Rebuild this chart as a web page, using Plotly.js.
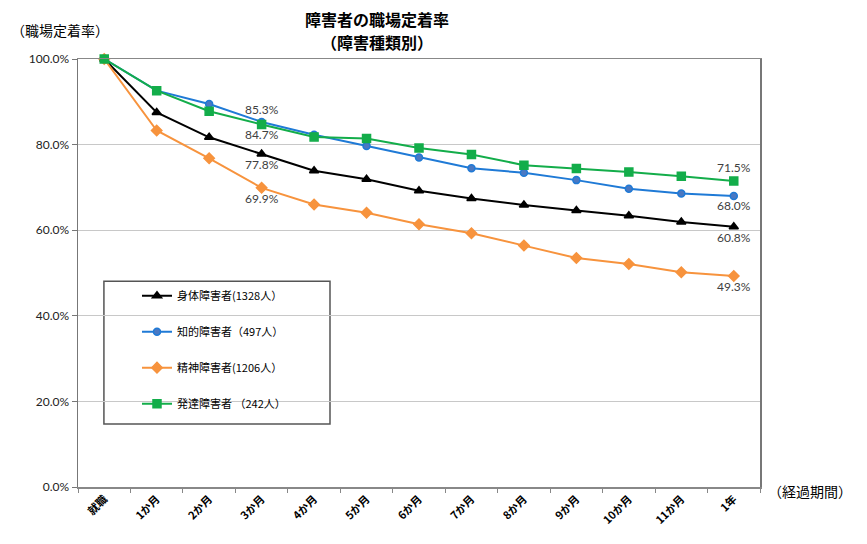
<!DOCTYPE html>
<html>
<head>
<meta charset="utf-8">
<script src="https://cdn.plot.ly/plotly-3.0.1.min.js"></script>
<style>html,body{margin:0;padding:0;background:#fff;}#chart{width:867px;height:544px;}</style>
</head>
<body>
<div id="chart"></div>
<script>
const categories = ["就職","1か月","2か月","3か月","4か月","5か月","6か月","7か月","8か月","9か月","10か月","11か月","1年"];
const seriesNames = ["身体障害者(1328人）","知的障害者（497人）","精神障害者(1206人）","発達障害者 （242人）"];
const physical = [100, 87.5, 81.7, 77.8, 73.9, 71.9, 69.2, 67.4, 65.9, 64.6, 63.4, 61.9, 60.8];
const intellectual = [100, 92.6, 89.5, 85.3, 82.3, 79.7, 77.0, 74.5, 73.4, 71.7, 69.7, 68.6, 68.0];
const mental = [100, 83.3, 76.8, 69.9, 66.0, 64.1, 61.4, 59.3, 56.4, 53.5, 52.1, 50.2, 49.3];
const developmental = [100, 92.6, 87.8, 84.7, 81.8, 81.4, 79.2, 77.7, 75.2, 74.4, 73.6, 72.6, 71.5];
const labelIdx = [3, 12];

const lblPos = {
  physical: "bottom center",
  intellectual: ["top center","bottom center"],
  mental: "bottom center",
  developmental: ["bottom center","top center"]
};

function labels(vals){
  return vals.map((v,i)=> labelIdx.includes(i) ? v.toFixed(1)+"%" : "");
}
function positions(p){
  return categories.map((c,i)=>{
    const k = labelIdx.indexOf(i);
    if (k < 0) return "top center";
    return Array.isArray(p) ? p[k] : p;
  });
}

const jp = "Noto Sans CJK JP, sans-serif";
const num = "Lato, Noto Sans, sans-serif";
const lblFont = {family: num, size: 12, color: "#404040"};

const traces = [
  {name: seriesNames[0], y: physical, color: "#000000", symbol: "triangle-up", size: 8, mcolor: "#000000", mline: "#000000", key: "physical"},
  {name: seriesNames[1], y: intellectual, color: "#1f7ad6", symbol: "circle", size: 7, mcolor: "#4a78c2", mline: "#1f7ad6", key: "intellectual"},
  {name: seriesNames[2], y: mental, color: "#f7933d", symbol: "diamond", size: 8, mcolor: "#f7933d", mline: "#f7933d", key: "mental"},
  {name: seriesNames[3], y: developmental, color: "#13ad4a", symbol: "square", size: 8, mcolor: "#13ad4a", mline: "#13ad4a", key: "developmental"}
].map((s,i)=>({
  type: "scatter",
  mode: "lines+markers+text",
  x: categories,
  y: s.y,
  name: s.name,
  legendgroup: "g"+i,
  line: {color: s.color, width: 2},
  marker: {symbol: s.symbol, size: s.size, color: s.mcolor, line: {color: s.mline, width: 1.5}},
  text: labels(s.y),
  textposition: positions(lblPos[s.key]),
  textfont: lblFont,
  cliponaxis: false,
  hoverinfo: "skip"
}));

const layout = {
  width: 867, height: 544,
  margin: {l: 78, r: 107, t: 59, b: 57},
  paper_bgcolor: "#ffffff",
  plot_bgcolor: "#ffffff",
  showlegend: true,
  legend: {
    x: 0.0865, y: 0.481, xanchor: "left", yanchor: "top",
    borderwidth: 0,
    font: {family: jp, size: 11, color: "#000"},
    tracegroupgap: 17,
    itemwidth: 30,
    traceorder: "grouped",
    bgcolor: "rgba(0,0,0,0)"
  },
  shapes: [
    {type: "rect", xref: "paper", yref: "paper", x0: 0.038, x1: 0.3695, y0: 0.147, y1: 0.481,
     line: {color: "#555555", width: 1.5}, fillcolor: "#ffffff", layer: "below"}
  ],
  xaxis: {
    type: "category",
    tickangle: -45,
    tickfont: {family: jp, size: 11, color: "#000", weight: "bold"},
    showline: true, linecolor: "#888888", linewidth: 1.5, mirror: true,
    ticks: "outside", ticklen: 4, tickcolor: "#888888", tickson: "boundaries",
    showgrid: false,
    range: [-0.5, 12.5]
  },
  yaxis: {
    range: [0, 100],
    tickvals: [0, 20, 40, 60, 80, 100],
    ticktext: ["0.0%","20.0%","40.0%","60.0%","80.0%","100.0%"],
    tickfont: {family: num, size: 12, color: "#222"},
    showline: true, linecolor: "#777777", linewidth: 1.5, mirror: true,
    ticks: "outside", ticklen: 5, tickcolor: "#777777",
    showgrid: true, gridcolor: "#c8c8c8", gridwidth: 1,
    zeroline: false
  },
  annotations: [
    {text: "<b>障害者の職場定着率</b>", xref: "paper", yref: "paper", x: 0.438, y: 1.093, showarrow: false, font: {family: jp, size: 16, color: "#000"}, xanchor: "center", yanchor: "middle"},
    {text: "<b>（障害種類別）</b>", xref: "paper", yref: "paper", x: 0.438, y: 1.0397, showarrow: false, font: {family: jp, size: 16, color: "#000"}, xanchor: "center", yanchor: "middle"},
    {text: "（職場定着率）", xref: "paper", yref: "paper", x: -0.026, y: 1.068, showarrow: false, font: {family: jp, size: 14, color: "#000"}, xanchor: "center", yanchor: "middle"},
    {text: "（経過期間）", xref: "paper", yref: "paper", x: 1.074, y: -0.009, showarrow: false, font: {family: jp, size: 14, color: "#000"}, xanchor: "center", yanchor: "middle"}
  ]
};

Plotly.newPlot("chart", traces, layout, {displayModeBar: false, staticPlot: true});
</script>
</body>
</html>
